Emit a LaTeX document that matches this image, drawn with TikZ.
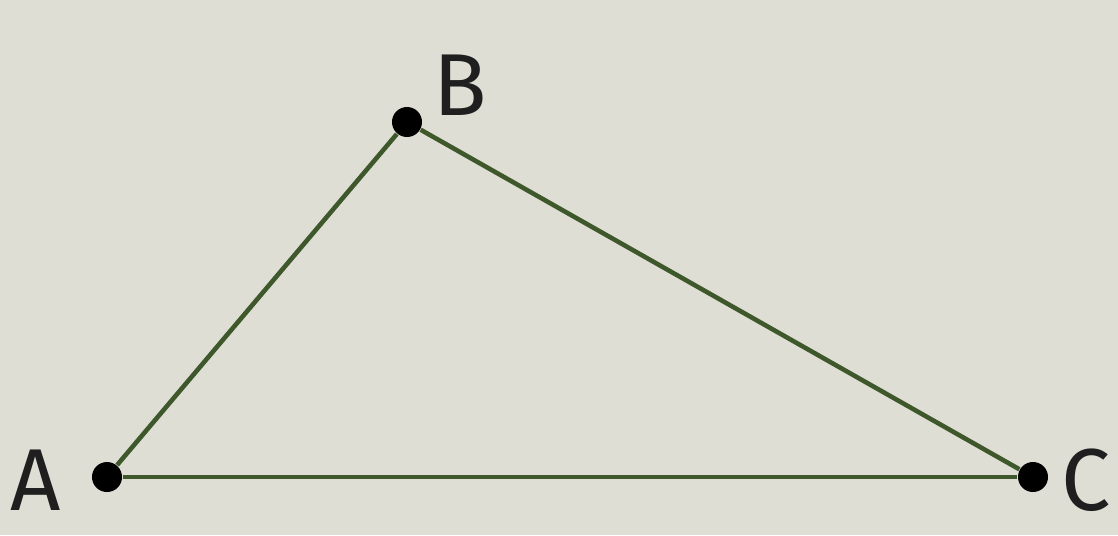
\documentclass[tikz,border=0pt]{standalone}
\usepackage{fontspec}
\setmainfont{Fira Sans}
\usetikzlibrary{positioning}
\definecolor{paper}{RGB}{223,222,212}
\definecolor{edgegreen}{RGB}{62,88,44}

\begin{document}
\begin{tikzpicture}[x=0.01cm, y=0.01cm,
    dotnode/.style={circle, fill=black, inner sep=0pt, minimum size=0.3cm},
    vlabel/.style={inner sep=0pt, font=\fontsize{25}{28}\selectfont, text=black!88}]
        % Background
        \fill[paper] (0,0) rectangle (1118,535);
        \useasboundingbox (0,0) rectangle (1118,535);

        % Nodes
        \node[dotnode] (A) at (107,58) {};
        \node[dotnode] (B) at (407,413) {};
        \node[dotnode] (C) at (1033,58) {};
        \node[vlabel] (labelA) [left=0.3cm of A, yshift=-0.03cm] {A};
        \node[vlabel] (labelB) [right=0.1cm of B, yshift=0.37cm] {B};
        \node[vlabel] (labelC) [right=0.12cm of C, yshift=-0.03cm] {C};

        % Edges
        \draw[edgegreen, line width=1.3pt] (A) -- (B);
        \draw[edgegreen, line width=1.3pt] (B) -- (C);
        \draw[edgegreen, line width=1.3pt] (A) -- (C);
    \end{tikzpicture}
\end{document}
